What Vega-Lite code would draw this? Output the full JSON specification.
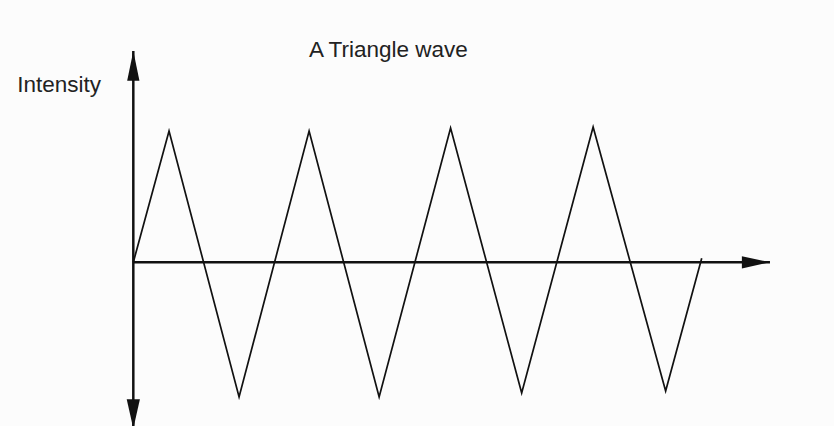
{
  "$schema": "https://vega.github.io/schema/vega-lite/v6.json",
  "width": 834,
  "height": 426,
  "padding": 0,
  "autosize": {"type": "none"},
  "background": "#fcfcfc",
  "config": {"view": {"stroke": null}},
  "datasets": {
    "wave": [
      {"t": 0, "intensity": 0},
      {"t": 1.01, "intensity": 0.987},
      {"t": 2.99, "intensity": -1.013},
      {"t": 4.97, "intensity": 0.987},
      {"t": 6.95, "intensity": -1.013},
      {"t": 8.97, "intensity": 1.01},
      {"t": 10.98, "intensity": -0.983},
      {"t": 13.0, "intensity": 1.017},
      {"t": 15.05, "intensity": -0.968},
      {"t": 16.07, "intensity": 0.03}
    ],
    "axes": [
      {"t": 0, "intensity": -1.25, "t2": 0, "intensity2": 1.589},
      {"t": 0, "intensity": 0, "t2": 18, "intensity2": 0}
    ],
    "arrows": [
      {"t": 0, "intensity": 1.589, "dir": "up"},
      {"t": 0, "intensity": -1.25, "dir": "down"},
      {"t": 18, "intensity": 0, "dir": "right"}
    ],
    "labels": [
      {"t": -2.1, "intensity": 1.283, "text": "Intensity"},
      {"t": 7.21, "intensity": 1.546, "text": "A Triangle wave"}
    ]
  },
  "encoding": {
    "x": {"field": "t", "type": "quantitative", "scale": {"domain": [-3.769, 19.81], "nice": false, "zero": false}, "axis": null},
    "y": {"field": "intensity", "type": "quantitative", "scale": {"domain": [-1.231, 1.972], "nice": false, "zero": false}, "axis": null}
  },
  "layer": [
    {
      "data": {"name": "axes"},
      "mark": {"type": "rule", "color": "#111", "strokeWidth": 2.5},
      "encoding": {
        "x2": {"field": "t2"},
        "y2": {"field": "intensity2"}
      }
    },
    {
      "data": {"name": "wave"},
      "mark": {"type": "line", "color": "#111", "strokeWidth": 1.7, "strokeJoin": "miter"}
    },
    {
      "data": {"name": "arrows"},
      "mark": {"type": "point", "filled": true, "opacity": 1, "color": "#111", "size": 942},
      "encoding": {
        "shape": {
          "field": "dir",
          "type": "nominal",
          "legend": null,
          "scale": {
            "domain": ["up", "down", "right"],
            "range": ["M0,0L0.4,1.95L-0.4,1.95Z", "M0,0L0.43,-1.9L-0.43,-1.9Z", "M0,0L-1.83,0.4L-1.83,-0.4Z"]
          }
        }
      }
    },
    {
      "data": {"name": "labels"},
      "mark": {"type": "text", "font": "Liberation Sans", "fontSize": 22.5, "color": "#222", "align": "center", "baseline": "alphabetic"},
      "encoding": {
        "text": {"field": "text", "type": "nominal"}
      }
    }
  ]
}
